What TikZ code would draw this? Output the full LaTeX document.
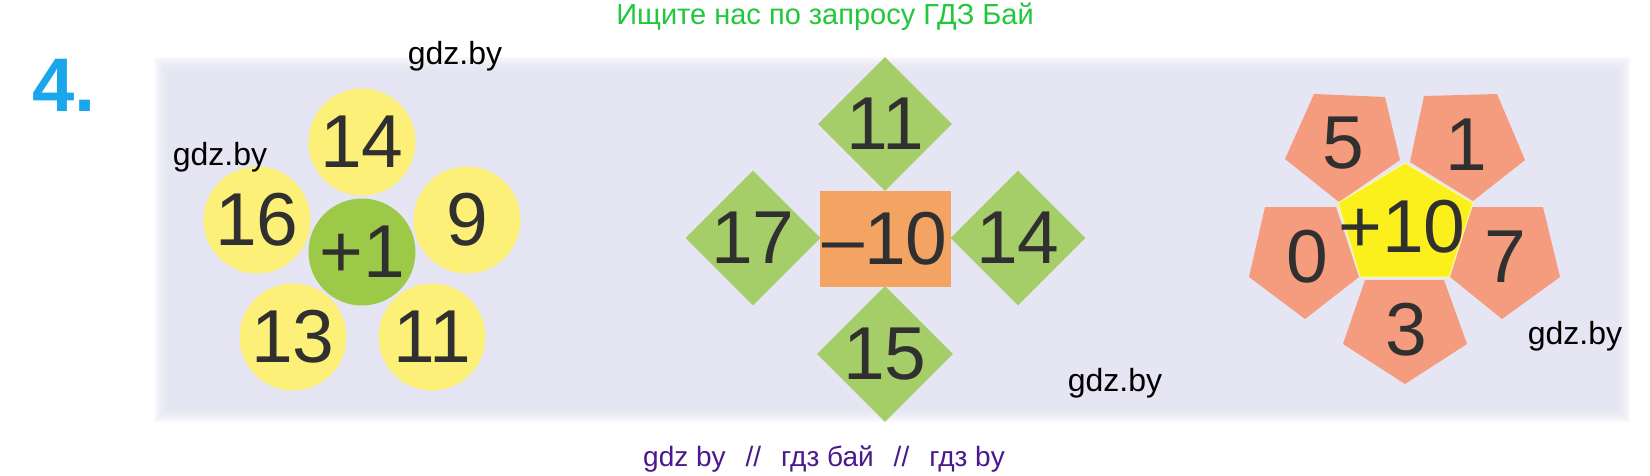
\documentclass[tikz,border=0pt]{standalone}
\usepackage{fontspec}
\setmainfont{Liberation Sans}
\usetikzlibrary{shapes.geometric}
\definecolor{bg}{HTML}{E5E5F3}
\definecolor{numc}{HTML}{303030}
\definecolor{ylw}{HTML}{FDF078}
\definecolor{grc}{HTML}{9CC948}
\definecolor{dia}{HTML}{A5CE69}
\definecolor{orng}{HTML}{F4A462}
\definecolor{salm}{HTML}{F59C7E}
\definecolor{ypent}{HTML}{FCF01C}
\definecolor{ttlg}{HTML}{22C83C}
\definecolor{purp}{HTML}{4B198C}
\definecolor{blu}{HTML}{1AA6EA}
\begin{document}
\begin{tikzpicture}[x=1pt,y=-1pt,
  num/.style={font=\fontsize{75}{75}\selectfont, text=numc, inner sep=0pt},
  petal/.style={circle, fill=ylw, minimum size=107pt, inner sep=0pt},
  hub/.style={circle, fill=grc, minimum size=107pt, inner sep=0pt},
  dbox/.style={diamond, aspect=1, fill=dia, minimum size=134pt, inner sep=0pt},
  obox/.style={rectangle, fill=orng, minimum width=131pt, minimum height=96pt, inner sep=0pt},
  wm/.style={font=\fontsize{32}{32}\selectfont, text=black, inner sep=0pt, anchor=base}]
\useasboundingbox (0,0) rectangle (1650,476);
\fill[white] (0,0) rectangle (1650,476);
% soft background panel
\foreach \i in {0,...,11}
  \fill[bg, opacity=0.18] ({154+\i*1.5},{57+\i*1.5}) rectangle ({1630-\i*1.5},{422-\i*1.5});
\fill[bg] (172,75) rectangle (1612,404);

% title texts
\node[font=\fontsize{29}{29}\selectfont, text=ttlg, inner sep=0pt, anchor=base] (title) at (825,25) {Ищите нас по запросу ГДЗ Бай};
\node[font=\fontsize{28}{28}\selectfont, text=purp, inner sep=0pt, anchor=base] (foot) at (824,466) {gdz by\hspace{20pt}//\hspace{20pt}гдз бай\hspace{20pt}//\hspace{20pt}гдз by};
\node[font=\fontsize{76}{76}\selectfont\bfseries, text=blu, inner sep=0pt, anchor=base] (four) at (64,112) {4.};

% left flower
\node[petal, num] (c14) at (362,142) {14};
\node[petal, num] (c16) at (257,220) {16};
\node[petal, num] (c9)  at (467,220) {9};
\node[petal, num] (c13) at (293,337) {13};
\node[petal, num] (c11) at (432,337) {11};
\node[hub, num] (c1) at (362,252) {+1};

% middle cross
\node[dbox, num] (d11) at (885,124) {11};
\node[dbox, num] (d17) at (753,238) {17};
\node[dbox, num] (d14) at (1018,238) {14};
\node[dbox, num] (d15) at (885,354) {15};
\node[obox, num] (m10) at (885,239) {–10};

% right flower
\fill[salm] (1314,94) -- (1385,97) -- (1400,160) -- (1339,202) -- (1285,159) -- cycle;
\fill[salm] (1424,96) -- (1497,94) -- (1525,160) -- (1473,201) -- (1410,162) -- cycle;
\fill[salm] (1265,207) -- (1336,207) -- (1359,277) -- (1305,319) -- (1249,277) -- cycle;
\fill[salm] (1472,207) -- (1543,207) -- (1560,277) -- (1502,319) -- (1450,277) -- cycle;
\fill[salm] (1365,280) -- (1444,280) -- (1467,344) -- (1405,384) -- (1343,344) -- cycle;
\fill[ypent, draw=ypent!40!white, line width=1pt] (1405,163) -- (1473,203) -- (1449,277) -- (1360,277) -- (1338,203) -- cycle;
\node[num] (p5) at (1343,143) {5};
\node[num] (p1) at (1466,145) {1};
\node[num] (p0) at (1307,257) {0};
\node[num] (p7) at (1505,257) {7};
\node[num] (p3) at (1406,330) {3};
\node[num] (p10) at (1402,227) {+10};

% watermarks
\node[wm] (w1) at (455,65) {gdz.by};
\node[wm] (w2) at (220,165) {gdz.by};
\node[wm] (w3) at (1115,391) {gdz.by};
\node[wm] (w4) at (1575,344) {gdz.by};
\end{tikzpicture}
\end{document}
